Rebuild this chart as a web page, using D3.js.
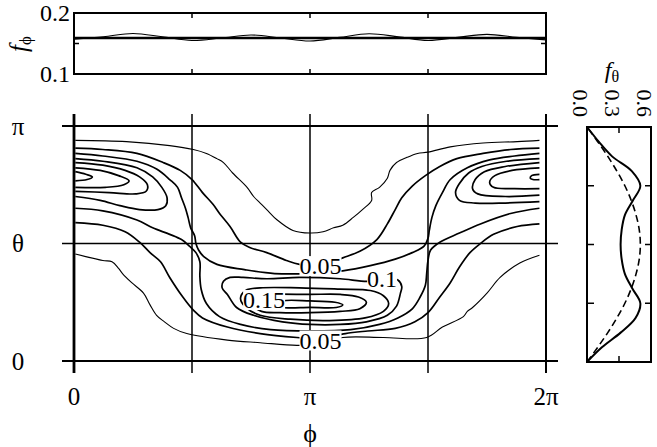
<!DOCTYPE html>
<html>
<head>
<meta charset="utf-8">
<script src="https://cdn.jsdelivr.net/npm/d3@7"></script>
<style>
  body { margin: 0; background: #fff; }
  svg { display: block; font-family: "Liberation Serif", "Times New Roman", serif; }
</style>
</head>
<body>
<svg id="chart" width="657" height="447"></svg>
<script>
// ---- angles are stored in degrees: phi 0..360, theta 0..180 ----
const phiTicks = [0, 90, 180, 270, 360];
const phiTickLabels = [[0, "0"], [180, "π"], [360, "2π"]];
const thetaTicks = [0, 90, 180];
const thetaTickLabels = [[0, "0"], [180, "π"]];

// marginal density f_phi (top panel)
const phiSamples = [0, 22.5, 45, 67.5, 90, 112.5, 135, 157.5, 180, 202.5, 225, 247.5, 270, 292.5, 315, 337.5, 360];
const fPhi = [0.157, 0.161, 0.1665, 0.161, 0.155, 0.159, 0.164, 0.159, 0.154, 0.160, 0.166, 0.161, 0.155, 0.160, 0.165, 0.160, 0.156];
const fPhiUniform = 0.159;
const fPhiTickLabels = [0.1, 0.2];
const fPhiMinorTicks = [0.15];

// marginal density f_theta (right panel)
const thetaSamples = [0, 11.25, 22.5, 33.75, 45, 56.25, 67.5, 78.75, 90, 101.25, 112.5, 123.75, 135, 146.25, 157.5, 168.75, 180];
const fTheta = [0, 0.14, 0.315, 0.455, 0.50, 0.425, 0.355, 0.325, 0.315, 0.325, 0.355, 0.43, 0.50, 0.42, 0.235, 0.11, 0];
const fThetaUniform = [0, 0.10, 0.195, 0.28, 0.355, 0.415, 0.46, 0.49, 0.50, 0.49, 0.46, 0.415, 0.355, 0.28, 0.195, 0.10, 0];
const fThetaTicks = [0, 0.3, 0.6];
const fThetaTickLabels = ["0.0", "0.3", "0.6"];

// joint density f(phi, theta): iso-lines as [phi, theta] vertices
const c025Upper = [[1,169],[40,168],[73,165],[91,162],[101,159],[109,155],[114,152],[121,144],[132,133],[137,126],[142,121],[147,116],[155,108],[167,100],[180,98],[190,99],[198,102],[205,104],[213,110],[220,116],[227,123],[227,129],[233,133],[239,140],[241,146],[246,152],[254,156],[262,159],[270,160],[287,164],[312,167],[338,168],[355,169]];
const c025Lower = [[1,82],[22,77],[29,76],[34,71],[37,67],[44,60],[53,52],[58,43],[63,35],[69,30],[76,25],[86,21],[117,16],[142,14],[170,12],[188,13],[205,18],[236,18],[269,18],[281,26],[297,34],[300,38],[304,41],[315,52],[325,64],[340,75],[355,81]];
const c05Upper = [[1,163],[22,162],[48,159],[68,152],[81,146],[90,139],[98,129],[106,120],[111,113],[119,103],[127,91],[134,87],[147,83],[162,77],[172,74],[188,73],[205,79],[218,84],[231,93],[239,105],[245,116],[250,125],[258,134],[268,142],[279,149],[292,155],[312,159],[333,162],[355,163]];
const c05Lower = [[1,106],[22,104],[39,99],[50,91],[58,83],[66,76],[73,64],[83,49],[91,39],[98,33],[117,26],[142,21],[170,18],[188,17],[207,21],[224,23],[245,25],[260,30],[270,37],[279,49],[287,60],[294,72],[302,83],[310,90],[320,97],[338,103],[355,105]];
const c075Upper = [[1,159],[22,157],[48,153],[63,147],[73,139],[79,133],[82,125],[85,117],[87,110],[89,102],[92,96],[93,90],[95,85],[99,80],[109,74],[130,70],[153,67],[180,67],[205,69],[226,73],[245,78],[258,83],[267,88],[270,94],[271,100],[273,110],[276,119],[281,129],[287,139],[300,148],[317,154],[336,157],[355,159]];
const c075Lower = [[1,117],[22,115],[48,108],[60,102],[73,97],[82,93],[88,88],[93,83],[96,76],[96,65],[97,55],[101,44],[111,34],[127,28],[150,24],[180,23],[211,24],[233,28],[247,33],[258,40],[264,49],[268,58],[269,67],[270,77],[272,85],[279,91],[294,98],[310,105],[333,113],[355,117]];
const c1Left = [[1,155],[22,153],[48,148],[60,141],[67,133],[71,125],[70,119],[64,116],[50,116],[35,119],[20,123],[1,126]];
const c1Right = [[355,155],[330,153],[311,149],[301,144],[294,136],[291,129],[294,123],[306,121],[329,121],[355,122]];
const c1Centre = [[224,61],[203,63],[172,64],[147,63],[129,64],[119,64],[114,61],[113,56],[117,51],[124,41],[137,35],[159,30],[180,28],[203,28],[223,30],[239,35],[246,42],[249,52],[250,57],[247,62],[241,63]];
const c0125Left = [[1,152],[22,150],[39,146],[50,141],[56,135],[55,130],[47,128],[27,129],[1,130]];
const c0125Right = [[355,152],[329,149],[313,145],[306,139],[304,132],[308,128],[329,126],[355,127]];
const c0125Centre = [[127,48],[131,54],[142,56],[172,56],[203,55],[226,54],[236,50],[240,44],[236,38],[222,33],[195,31],[165,32],[142,35],[131,41]];
const c015Left = [[1,148],[20,146],[34,142],[42,138],[38,135],[24,133],[1,133]];
const c015Right = [[355,148],[334,146],[321,142],[317,137],[320,133],[336,132],[355,132]];
const c015Centre = [[149,51],[180,51],[203,51],[217,49],[223,45],[218,40],[203,38],[180,37],[157,37],[143,38],[136,43],[136,47],[142,50]];
const c0175Left = [[1,145],[9,143],[14,141],[10,139],[1,138]];
const c0175Right = [[355,143],[349,142],[348,140],[350,139],[355,139]];
const c0175Centre = [[159,46],[180,46],[199,45],[205,43],[200,41],[180,41],[159,41],[154,43]];

const isolines = [
  { level: 0.025, closed: false, pts: c025Upper },
  { level: 0.025, closed: false, pts: c025Lower },
  { level: 0.05,  closed: false, pts: c05Upper },
  { level: 0.05,  closed: false, pts: c05Lower },
  { level: 0.075, closed: false, pts: c075Upper },
  { level: 0.075, closed: false, pts: c075Lower },
  { level: 0.1,   closed: false, pts: c1Left },
  { level: 0.1,   closed: false, pts: c1Right },
  { level: 0.1,   closed: true,  pts: c1Centre },
  { level: 0.125, closed: false, pts: c0125Left },
  { level: 0.125, closed: false, pts: c0125Right },
  { level: 0.125, closed: true,  pts: c0125Centre },
  { level: 0.15,  closed: false, pts: c015Left },
  { level: 0.15,  closed: false, pts: c015Right },
  { level: 0.15,  closed: true,  pts: c015Centre },
  { level: 0.175, closed: false, pts: c0175Left },
  { level: 0.175, closed: false, pts: c0175Right },
  { level: 0.175, closed: true,  pts: c0175Centre }
];

// in-line level labels, anchored in (phi, theta)
const levelLabels = [
  { level: 0.05, phi: 188, theta: 73 },
  { level: 0.1,  phi: 235, theta: 63 },
  { level: 0.15, phi: 145, theta: 47 },
  { level: 0.05, phi: 188, theta: 16 }
];

// ---------------- drawing ----------------
const svg = d3.select("#chart");
svg.append("rect").attr("width", 657).attr("height", 447).attr("fill", "#fff");

const x = d3.scaleLinear().domain([0, 360]).range([74, 546]);
const y = d3.scaleLinear().domain([0, 180]).range([361, 126]);
const tickLen = 12;

// main panel: grid lines that run past the frame as outward ticks
const mainPanel = svg.append("g");
mainPanel.selectAll("line.v").data(phiTicks).join("line")
  .attr("x1", d => x(d)).attr("x2", d => x(d))
  .attr("y1", y(180) - tickLen).attr("y2", y(0) + tickLen)
  .attr("stroke", "#000")
  .attr("stroke-width", d => d === 0 ? 2.8 : (d === 360 ? 2 : 1.5));
mainPanel.selectAll("line.h").data(thetaTicks).join("line")
  .attr("x1", x(0) - tickLen).attr("x2", x(360) + tickLen)
  .attr("y1", d => y(d)).attr("y2", d => y(d))
  .attr("stroke", "#000")
  .attr("stroke-width", d => d === 90 ? 1.5 : 2);

// iso-lines
const lineOpen = d3.line().x(d => x(d[0])).y(d => y(d[1])).curve(d3.curveCatmullRom.alpha(0.5));
const lineClosed = d3.line().x(d => x(d[0])).y(d => y(d[1])).curve(d3.curveCatmullRomClosed.alpha(0.5));
mainPanel.append("g").selectAll("path").data(isolines).join("path")
  .attr("d", d => (d.closed ? lineClosed : lineOpen)(d.pts))
  .attr("fill", "none")
  .attr("stroke", "#000")
  .attr("stroke-linejoin", "round")
  .attr("stroke-width", d => d.level === 0.025 ? 1.1 : 1.7);

// level labels on white patches
const lab = mainPanel.append("g").selectAll("g").data(levelLabels).join("g")
  .attr("transform", d => `translate(${x(d.phi)},${y(d.theta)})`);
lab.each(function (d) {
  const g = d3.select(this);
  const t = g.append("text")
    .attr("text-anchor", "middle").attr("dy", "0.35em")
    .attr("font-size", 24).text(String(d.level));
  const b = t.node().getBBox();
  g.insert("rect", "text")
    .attr("x", b.x).attr("y", b.y + 3)
    .attr("width", b.width).attr("height", b.height - 6)
    .attr("fill", "#fff");
});

// axis labels, main panel
mainPanel.selectAll("text.tl").data(thetaTickLabels).join("text")
  .attr("x", 18).attr("y", d => y(d[0])).attr("dy", "0.35em")
  .attr("text-anchor", "middle").attr("font-size", 25).text(d => d[1]);
mainPanel.append("text").attr("x", 18).attr("y", y(90)).attr("dy", "0.35em")
  .attr("text-anchor", "middle").attr("font-size", 25).text("θ");
mainPanel.selectAll("text.pl").data(phiTickLabels).join("text")
  .attr("x", d => x(d[0])).attr("y", 396).attr("dy", "0.35em")
  .attr("text-anchor", "middle").attr("font-size", 25).text(d => d[1]);
mainPanel.append("text").attr("x", x(180)).attr("y", 433).attr("dy", "0.35em")
  .attr("text-anchor", "middle").attr("font-size", 26).text("ϕ");

// ---------- top panel: f_phi ----------
const yP = d3.scaleLinear().domain([0.1, 0.2]).range([74, 13]);
const topPanel = svg.append("g");
topPanel.append("rect").attr("x", x(0)).attr("y", yP(0.2))
  .attr("width", x(360) - x(0)).attr("height", yP(0.1) - yP(0.2))
  .attr("fill", "none").attr("stroke", "#000").attr("stroke-width", 2);
topPanel.selectAll("line.tt").data([90, 180, 270]).join("line")
  .attr("x1", d => x(d)).attr("x2", d => x(d))
  .attr("y1", yP(0.2)).attr("y2", yP(0.2) + 5).attr("stroke", "#000").attr("stroke-width", 1.5);
topPanel.selectAll("line.tb").data([90, 180, 270]).join("line")
  .attr("x1", d => x(d)).attr("x2", d => x(d))
  .attr("y1", yP(0.1)).attr("y2", yP(0.1) - 5).attr("stroke", "#000").attr("stroke-width", 1.5);
topPanel.selectAll("line.tlft").data(fPhiMinorTicks).join("line")
  .attr("x1", x(0)).attr("x2", x(0) + 5)
  .attr("y1", d => yP(d)).attr("y2", d => yP(d)).attr("stroke", "#000").attr("stroke-width", 1.5);
topPanel.selectAll("line.trgt").data(fPhiMinorTicks).join("line")
  .attr("x1", x(360)).attr("x2", x(360) - 5)
  .attr("y1", d => yP(d)).attr("y2", d => yP(d)).attr("stroke", "#000").attr("stroke-width", 1.5);
topPanel.append("line")
  .attr("x1", x(0)).attr("x2", x(360))
  .attr("y1", yP(fPhiUniform)).attr("y2", yP(fPhiUniform))
  .attr("stroke", "#000").attr("stroke-width", 2.6);
topPanel.append("path")
  .attr("d", d3.line().x((d, i) => x(phiSamples[i])).y(d => yP(d)).curve(d3.curveCatmullRom)(fPhi))
  .attr("fill", "none").attr("stroke", "#000").attr("stroke-width", 1.1);
topPanel.selectAll("text.yl").data(fPhiTickLabels).join("text")
  .attr("x", 70).attr("y", d => yP(d)).attr("dy", "0.35em")
  .attr("text-anchor", "end").attr("font-size", 24).text(d => d.toFixed(1));
const fpl = topPanel.append("text").attr("transform", "translate(27,44) rotate(-90)")
  .attr("text-anchor", "middle").attr("font-size", 25);
fpl.append("tspan").attr("font-style", "italic").text("f");
fpl.append("tspan").attr("font-size", 17).attr("dy", 4).text("ϕ");

// ---------- right panel: f_theta ----------
const xT = d3.scaleLinear().domain([0, 0.6]).range([587, 651]);
const yT = d3.scaleLinear().domain([0, 180]).range([362, 127]);
const rightPanel = svg.append("g");
rightPanel.append("rect").attr("x", xT(0)).attr("y", yT(180))
  .attr("width", xT(0.6) - xT(0)).attr("height", yT(0) - yT(180))
  .attr("fill", "none").attr("stroke", "#000").attr("stroke-width", 2);
rightPanel.selectAll("line.rl").data([45, 90, 135]).join("line")
  .attr("x1", xT(0)).attr("x2", xT(0) + 7)
  .attr("y1", d => yT(d)).attr("y2", d => yT(d)).attr("stroke", "#000").attr("stroke-width", 1.5);
rightPanel.selectAll("line.rr").data([45, 90, 135]).join("line")
  .attr("x1", xT(0.6)).attr("x2", xT(0.6) - 6)
  .attr("y1", d => yT(d)).attr("y2", d => yT(d)).attr("stroke", "#000").attr("stroke-width", 1.5);
rightPanel.selectAll("line.rt").data([0.3]).join("line")
  .attr("x1", d => xT(d)).attr("x2", d => xT(d))
  .attr("y1", yT(180)).attr("y2", yT(180) + 6).attr("stroke", "#000").attr("stroke-width", 1.5);
rightPanel.selectAll("line.rb").data([0.3]).join("line")
  .attr("x1", d => xT(d)).attr("x2", d => xT(d))
  .attr("y1", yT(0)).attr("y2", yT(0) - 6).attr("stroke", "#000").attr("stroke-width", 1.5);
const thetaLine = d3.line().x(d => xT(d)).y((d, i) => yT(thetaSamples[i])).curve(d3.curveCatmullRom);
rightPanel.append("path").attr("d", thetaLine(fThetaUniform))
  .attr("fill", "none").attr("stroke", "#000").attr("stroke-width", 1.6)
  .attr("stroke-dasharray", "7,4");
rightPanel.append("path").attr("d", thetaLine(fTheta))
  .attr("fill", "none").attr("stroke", "#000").attr("stroke-width", 2);
rightPanel.selectAll("text.xl").data(fThetaTicks).join("text")
  .attr("transform", d => `translate(${xT(d)},117) rotate(90)`)
  .attr("text-anchor", "end").attr("dy", "0.62em")
  .attr("font-size", 22).text((d, i) => fThetaTickLabels[i]);
const ftl = rightPanel.append("text").attr("x", 612).attr("y", 78)
  .attr("text-anchor", "middle").attr("font-size", 24);
ftl.append("tspan").attr("font-style", "italic").text("f");
ftl.append("tspan").attr("font-size", 16).attr("dy", 4).text("θ");
</script>
</body>
</html>
